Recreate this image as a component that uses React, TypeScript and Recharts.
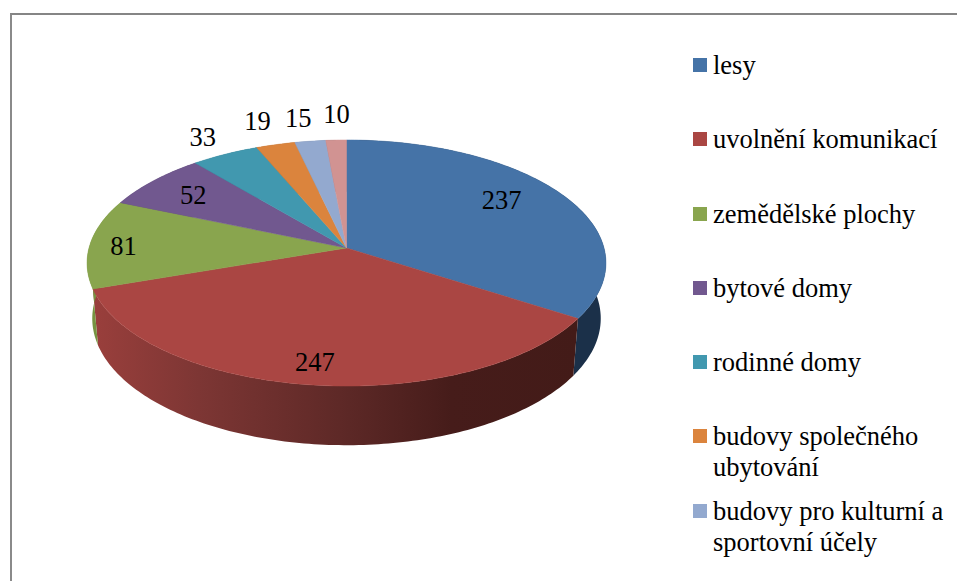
import React from 'react';
import { PieChart, Pie, Legend } from 'recharts';

// last name is empty: that legend entry is cut off at the bottom of the reference
const CATEGORIES = [
  'lesy',
  'uvolnění komunikací',
  'zemědělské plochy',
  'bytové domy',
  'rodinné domy',
  'budovy společného ubytování',
  'budovy pro kulturní a sportovní účely',
  '',
];
const VALUES = [237, 247, 81, 52, 33, 19, 15, 10];
const COLORS = ['#4573a7', '#aa4643', '#89a54e', '#71588f', '#4198af', '#db843d', '#93a9cf', '#d19392'];
const WALL_COLORS = ['#1b3049', 'url(#redWall)', '#769340', '#4a3a5f', '#2b6475', '#91572a', '#62708a', '#8a6160'];

const chartData = CATEGORIES.map((name, i) => ({ name, value: VALUES[i], fill: COLORS[i] }));
const wallData = CATEGORIES.map((name, i) => ({ name, value: VALUES[i], fill: WALL_COLORS[i] }));

const WIDTH = 957;
const HEIGHT = 581;
const FONT = '"Liberation Serif", "Times New Roman", serif';

// perspective of the tilted disc, the centre sits above the middle of the ellipse
const PERSP = -0.122;
const SCALE_X = 257.5;
const SCALE_Y = 121.2;
const WALL_DROP = 55;
const WALL_SX = 0.98;
const WALL_SY = 1.03;

// radius on the disc and pixel nudge of each value label
const LABEL_RADII = [0.7, 0.85, 0.87, 0.74, 1.207, 1.262, 1.25, 1.28];
const LABEL_NUDGE = [[3, -9], [-2, 0], [0, 2], [-8, -2], [0, 0], [-2, 0], [-4, 0], [3, 0]];

const project = (cx: number, cy: number, angle: number, r = 1, sx = 1, sy = 1) => {
  const a = ((90 - angle) * Math.PI) / 180;
  const u = r * Math.sin(a);
  const v = -r * Math.cos(a);
  const w = 1 + PERSP * v;
  return [cx + (SCALE_X * sx * u) / w, cy + (SCALE_Y * sy * v) / w];
};

const arcPoints = (cx: number, cy: number, start: number, end: number, sx = 1, sy = 1) => {
  const steps = Math.max(2, Math.ceil(Math.abs(end - start)));
  const pts: number[][] = [];
  for (let i = 0; i <= steps; i++) {
    pts.push(project(cx, cy, start + ((end - start) * i) / steps, 1, sx, sy));
  }
  return pts;
};

const toPath = (pts: number[][]) => pts.map((p, i) => `${i ? 'L' : 'M'}${p[0].toFixed(2)},${p[1].toFixed(2)}`).join(' ') + ' Z';

const TopSlice = (props: any) => {
  const { cx, cy, startAngle, endAngle, fill } = props;
  const d = toPath([[cx, cy], ...arcPoints(cx, cy, startAngle, endAngle)]);
  return <path d={d} fill={fill} stroke={fill} strokeWidth={0.5} />;
};

const WallSlice = (props: any) => {
  const { cx, cy, startAngle, endAngle, fill } = props;
  const top = arcPoints(cx, cy, startAngle, endAngle);
  const bottom = arcPoints(cx, cy + WALL_DROP, endAngle, startAngle, WALL_SX, WALL_SY);
  return <path d={toPath([...top, ...bottom])} fill={fill} stroke="none" />;
};

const renderLabel = (props: any) => {
  const { cx, cy, midAngle, value, index } = props;
  const [x, y] = project(cx, cy, midAngle, LABEL_RADII[index]);
  return (
    <text
      x={x + LABEL_NUDGE[index][0]}
      y={y + LABEL_NUDGE[index][1]}
      dy="0.34em"
      textAnchor="middle"
      fontFamily={FONT}
      fontSize={26.5}
      fill="#000"
    >
      {value}
    </text>
  );
};

// the wall pie also feeds the payload, so the entries come straight from the data
const renderLegend = () => (
  <div style={{ fontFamily: FONT, fontSize: 26.5, lineHeight: '31px', color: '#000' }}>
    {chartData
      .filter((d) => d.name)
      .map((d) => (
        <div key={d.name} style={{ display: 'flex', height: 74.3 }}>
          <div style={{ width: 14, height: 14, marginTop: 8, marginRight: 6, flexShrink: 0, background: d.fill }} />
          <div style={{ width: 240 }}>{d.name}</div>
        </div>
      ))}
  </div>
);

export default function App() {
  return (
    <div style={{ position: 'absolute', left: 0, top: 0, width: WIDTH, height: HEIGHT, overflow: 'hidden', background: '#fff' }}>
      <div style={{ position: 'absolute', left: 10, top: 13, width: WIDTH, height: HEIGHT, borderLeft: '2px solid #8a8a8a', borderTop: '2px solid #858585' }} />
      <div style={{ position: 'absolute', left: 0, top: 0 }}>
        <PieChart width={WIDTH} height={HEIGHT} margin={{ top: 0, right: 0, bottom: 0, left: 0 }}>
          <defs>
            <linearGradient id="redWall" gradientUnits="userSpaceOnUse" x1={92} y1={0} x2={578} y2={0}>
              <stop offset="0" stopColor="#9a3f3c" />
              <stop offset="0.22" stopColor="#7d3634" />
              <stop offset="0.53" stopColor="#5c2826" />
              <stop offset="0.74" stopColor="#461c1a" />
              <stop offset="1" stopColor="#431b18" />
            </linearGradient>
          </defs>
          <Pie
            data={wallData}
            dataKey="value"
            nameKey="name"
            cx={346.5}
            cy={248}
            outerRadius={100}
            startAngle={90}
            endAngle={-270}
            legendType="none"
            shape={WallSlice}
            isAnimationActive={false}
          />
          <Pie
            data={chartData}
            dataKey="value"
            nameKey="name"
            cx={346.5}
            cy={248}
            outerRadius={100}
            startAngle={90}
            endAngle={-270}
            shape={TopSlice}
            label={renderLabel}
            labelLine={false}
            isAnimationActive={false}
          />
          <Legend
            layout="vertical"
            align="right"
            verticalAlign="top"
            width={264}
            wrapperStyle={{ left: 693, top: 50, right: 'auto' }}
            content={renderLegend}
          />
        </PieChart>
      </div>
    </div>
  );
}
